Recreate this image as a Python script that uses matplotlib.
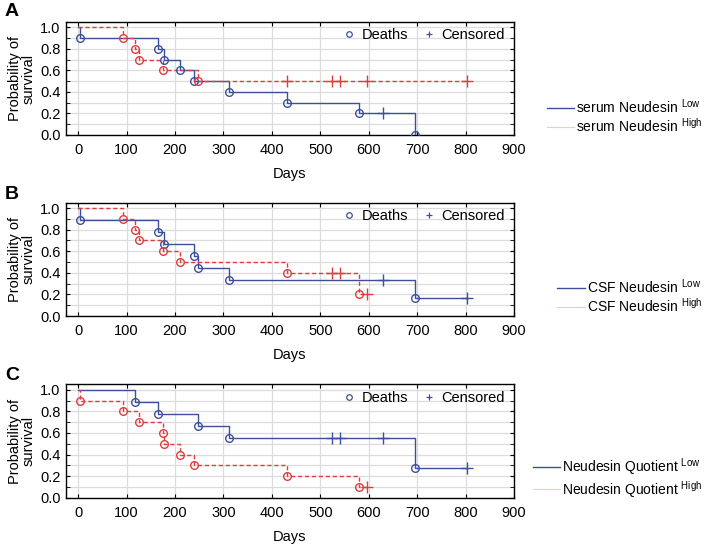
import numpy as np
import matplotlib.pyplot as plt
from matplotlib.lines import Line2D

plt.rcParams['font.family'] = ['Liberation Sans', 'DejaVu Sans']
plt.rcParams['mathtext.fontset'] = 'custom'
plt.rcParams['mathtext.rm'] = 'Liberation Sans'

# A: serum
a_low_t = [0, 3, 165, 177, 210, 240, 312, 432, 580, 695]
a_low_s = [1.0, 0.9, 0.8, 0.7, 0.6, 0.5, 0.4, 0.3, 0.2, 0.0]
a_low_ct = [630]
a_low_cs = [0.2]
a_high_t = [0, 92, 118, 125, 175, 247]
a_high_s = [1.0, 0.9, 0.8, 0.7, 0.6, 0.5]
a_high_ct = [432, 525, 540, 597, 803]
a_high_cs = [0.5, 0.5, 0.5, 0.5, 0.5]

# B: CSF
b_low_t = [0, 3, 165, 177, 240, 247, 312, 695]
b_low_s = [1.0, 0.889, 0.778, 0.667, 0.556, 0.444, 0.333, 0.167]
b_low_ct = [630, 803]
b_low_cs = [0.333, 0.167]
b_high_t = [0, 92, 118, 125, 175, 210, 432, 580]
b_high_s = [1.0, 0.9, 0.8, 0.7, 0.6, 0.5, 0.4, 0.2]
b_high_ct = [525, 540, 597]
b_high_cs = [0.4, 0.4, 0.2]

# C: quotient
c_low_t = [0, 118, 165, 247, 312, 695]
c_low_s = [1.0, 0.889, 0.778, 0.667, 0.556, 0.278]
c_low_ct = [525, 540, 630, 803]
c_low_cs = [0.556, 0.556, 0.556, 0.278]
c_high_t = [0, 3, 92, 125, 175, 177, 210, 240, 432, 580]
c_high_s = [1.0, 0.9, 0.8, 0.7, 0.6, 0.5, 0.4, 0.3, 0.2, 0.1]
c_high_ct = [597]
c_high_cs = [0.1]

panels = [
    ('A', 'serum Neudesin', (a_low_t, a_low_s, a_low_ct, a_low_cs), (a_high_t, a_high_s, a_high_ct, a_high_cs)),
    ('B', 'CSF Neudesin', (b_low_t, b_low_s, b_low_ct, b_low_cs), (b_high_t, b_high_s, b_high_ct, b_high_cs)),
    ('C', 'Neudesin Quotient', (c_low_t, c_low_s, c_low_ct, c_low_cs), (c_high_t, c_high_s, c_high_ct, c_high_cs)),
]

blue = '#3c4f9c'
red = '#e03c3c'
fs = 10.5

W, H = 709, 546
fig = plt.figure(figsize=(W / 100, H / 100), dpi=100)

ax_pos = [(22, 135), (202.7, 316), (384.3, 497.7)]
letter_y = [12, 194, 376]
leg_y = [116, 296, 478]


def km(ax, data, color, ls):
    t, s, ct, cs = data
    end = max(t + ct)
    ax.step(t + [end], s + [s[-1]], where='post', color=color, ls=ls, lw=1.0, zorder=3)
    ax.plot(t[1:], s[1:], 'o', mfc='none', mec=color, ms=5.5, mew=1.0, zorder=4)
    ax.plot(ct, cs, '+', color=color, ms=8, mew=1.0, zorder=4)


for i, (letter, name, low, high) in enumerate(panels):
    top, bot = ax_pos[i]
    ax = fig.add_axes([66 / W, 1 - bot / H, 448 / W, (bot - top) / H])
    km(ax, low, blue, '-')
    km(ax, high, red, (0, (3, 2)))
    ax.set_xlim(-25, 900)
    ax.set_ylim(0, 1.05)
    ax.set_xticks(np.arange(0, 1000, 100))
    ax.set_yticks(np.arange(0, 1.01, 0.2))
    ax.set_yticks(np.arange(0, 1.01, 0.1), minor=True)
    ax.set_yticklabels(['%.1f' % v for v in np.arange(0, 1.01, 0.2)])
    ax.grid(True, which='both', color='#dcdcdc', lw=0.9, zorder=0)
    ax.tick_params(which='both', direction='in', top=True, right=True, length=3, labelsize=fs)
    ax.tick_params(axis='y', pad=4)
    ax.tick_params(axis='x', pad=6)
    ax.set_axisbelow(True)
    ax.set_xlabel('Days', fontsize=fs, labelpad=7)
    ax.set_ylabel('Probability of\nsurvival', fontsize=fs, labelpad=3, linespacing=1.0)
    for sp in ax.spines.values():
        sp.set_linewidth(1.0)

    h1 = Line2D([], [], ls='none', marker='o', mfc='none', mec=blue, ms=4, mew=0.9)
    h2 = Line2D([], [], ls='none', marker='+', color=blue, ms=5, mew=0.9)
    ax.legend([h1, h2], ['Deaths', 'Censored'], loc='upper right', ncol=2, frameon=False,
              fontsize=fs, handlelength=1.0, handletextpad=0.4, columnspacing=0.9,
              borderaxespad=0.2, bbox_to_anchor=(1.0, 1.02))

    l1 = Line2D([], [], color=blue, lw=1.0)
    l2 = Line2D([], [], color='#f8c8c8', lw=0.8)
    fig.legend([l1, l2], [name + ' $^{\\rm Low}$', name + ' $^{\\rm High}$'],
               loc='center right', bbox_to_anchor=(1.0, 1 - leg_y[i] / H), frameon=False,
               fontsize=10, handlelength=2.0, handletextpad=0.1, borderaxespad=0.1,
               labelspacing=0.05)

    fig.text(5 / W, 1 - letter_y[i] / H, letter, fontsize=14, fontweight='bold', va='center', ha='left')

fig.savefig('out.png', dpi=100)
